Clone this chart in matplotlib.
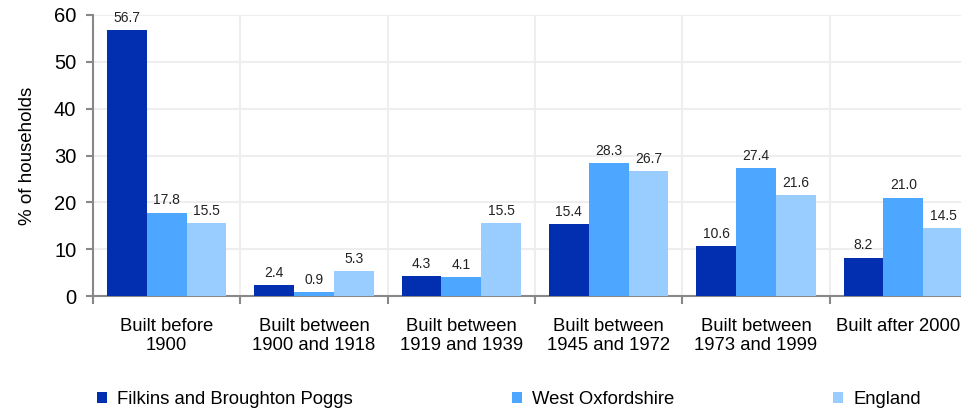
import numpy as np
import matplotlib.pyplot as plt
import matplotlib.transforms as mtransforms

plt.rcParams['font.family'] = ['Liberation Sans', 'DejaVu Sans']

categories = ["Built before\n1900", "Built between\n1900 and 1918", "Built between\n1919 and 1939",
              "Built between\n1945 and 1972", "Built between\n1973 and 1999", "Built after 2000"]
series_names = ["Filkins and Broughton Poggs", "West Oxfordshire", "England"]
filkins = [56.7, 2.4, 4.3, 15.4, 10.6, 8.2]
west_oxon = [17.8, 0.9, 4.1, 28.3, 27.4, 21.0]
england = [15.5, 5.3, 15.5, 26.7, 21.6, 14.5]
colors = ["#022fb0", "#4da6ff", "#99ccff"]

fig = plt.figure(figsize=(9.62, 4.08), dpi=100)
# plot area runs slightly past the right edge
ax = fig.add_axes([93 / 962, 1 - 296 / 408, 884 / 962, 281 / 408])

x = np.arange(len(categories))
w = 0.27
for i, (vals, c, name) in enumerate(zip([filkins, west_oxon, england], colors, series_names)):
    pos = x + (i - 1) * w
    bars = ax.bar(pos, vals, width=w, color=c, label=name, zorder=3)
    for b, v in zip(bars, vals):
        ax.text(b.get_x() + b.get_width() / 2, v + 1.1, f"{v:.1f}",
                ha='center', va='bottom', fontsize=10, color='#222222')

ax.set_xlim(-0.5, len(categories) - 0.5)
ax.set_ylim(0, 60)
ax.set_yticks(range(0, 61, 10))
ax.tick_params(axis='y', labelsize=14.5, length=5, color='#888888', width=1.5, pad=7)
ax.set_xticks(x)
ax.set_xticklabels(categories, fontsize=13.3, linespacing=1.1)
ax.tick_params(axis='x', length=0, pad=16)
ax.set_xticks(np.arange(-0.5, len(categories), 1), minor=True)
ax.tick_params(axis='x', which='minor', length=6, color='#888888', width=1.5)

# last label sits against the right edge, nudge it inward a little
last = ax.get_xticklabels()[-1]
last.set_transform(last.get_transform() + mtransforms.ScaledTranslation(-5 / 100, 0, fig.dpi_scale_trans))

ax.grid(True, which='major', axis='y', color='#eeeeee', linewidth=1.5, zorder=0)
ax.grid(True, which='minor', axis='x', color='#eeeeee', linewidth=1.5, zorder=0)
for s in ['top', 'right']:
    ax.spines[s].set_visible(False)
for s in ['left', 'bottom']:
    ax.spines[s].set_color('#888888')
    ax.spines[s].set_linewidth(1.5)

ax.set_ylabel("% of households", fontsize=13.5)
ax.yaxis.set_label_coords(-57 / 884, 0.5)

fig.legend(loc='lower left', bbox_to_anchor=(80 / 962, -0.04), ncol=3, frameon=False,
           fontsize=13.3, handlelength=0.55, handleheight=0.55, handletextpad=0.55,
           columnspacing=8.6)

fig.savefig("out.png", dpi=100)
